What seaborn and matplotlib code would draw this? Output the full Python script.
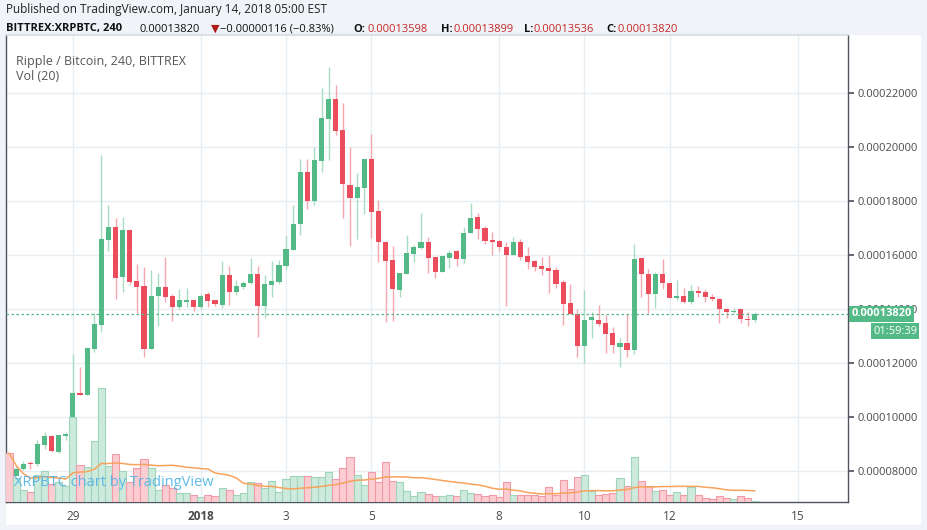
import matplotlib
matplotlib.use("Agg")
import matplotlib.pyplot as plt
import seaborn as sns
import numpy as np
import pandas as pd
from matplotlib.patches import Rectangle
from matplotlib.ticker import FuncFormatter

opens = [7900,7820,8070,8290,8270,8970,9280,8700,9290,9380,
10900,10820,12520,13400,16540,17020,15180,16910,15020,14840,
12520,14470,14810,14470,14070,14260,14320,14070,14540,14320,
14130,15250,14630,14810,14970,15310,14100,14890,15000,15590,
16170,17130,19060,18000,19480,21030,21770,20620,18580,18110,
18480,19540,17620,16480,15800,14700,15290,16040,16260,16470,
15910,15370,15890,16160,15860,16800,17420,17010,16570,16530,
16310,16010,16490,15970,15790,15600,15530,15460,15010,14230,
13810,12620,13600,13600,13490,13120,12580,12750,12470,15900,
15310,14540,15310,14970,14390,14490,14250,14680,14640,14460,
14380,14010,13880,14010,13640,13598]
closes = [7820,8090,8270,8260,8990,9280,8740,9320,9380,10900,
10820,12550,13450,16580,17020,15150,16910,15000,14810,12520,
14470,14810,14440,14070,14320,14320,14070,14470,14290,14170,
15250,14630,14840,14970,15310,14100,14910,15020,15620,16210,
17160,19060,18000,19510,21060,21770,20600,18620,18110,18510,
19540,17580,16480,15780,14740,15330,16060,16280,16470,15890,
15370,15960,16060,15860,16830,17380,16970,16530,16490,16280,
16010,16490,15940,15750,15570,15490,15420,14940,14200,13810,
12620,13600,13710,13450,13060,12650,12750,12470,15860,15310,
14540,15310,14950,14390,14490,14250,14680,14600,14430,14380,
14010,13880,13940,13620,13580,13820]
highs = [7950,8200,8370,8370,9140,9440,9320,9350,9440,12340,
11850,12590,13850,19690,17860,17360,17400,16970,15650,15550,
15460,15330,15920,14540,14730,14760,14320,14540,14630,14340,
15760,15580,15080,15040,15890,15580,15250,15760,15800,16690,
17840,19570,19570,20000,22185,22960,22300,21640,19990,19020,
19540,20490,18020,16520,16330,15330,16730,16370,17550,16670,
15920,15960,16170,16200,17020,17910,17540,17090,16860,16570,
16490,16680,16600,16310,15830,15940,16010,15570,15090,14940,
14000,14710,13900,14160,13790,13340,12910,13810,16420,15900,
15490,15380,15860,14970,15090,14790,14900,14860,14750,14570,
14420,14050,14050,14010,13900,13899]
lows = [7780,7800,8040,8090,8170,8820,8700,8660,9130,9380,
10800,10800,12400,13150,16130,14360,14630,14940,13850,12220,
12520,13380,14260,13550,14010,14070,13920,14010,14070,14100,
14050,14160,14530,14730,14940,12960,13660,14440,14940,15470,
16170,16730,17690,17840,19070,19510,20440,17370,16330,16580,
17530,16630,15740,13520,13550,14440,15290,15740,16230,15330,
15150,15370,15520,15600,15720,16800,16580,16420,16010,16160,
14120,16010,15830,15490,15420,15270,14600,14790,13420,13810,
12210,11990,12910,13380,12380,12380,11870,12240,12320,14430,
13840,14020,14730,14390,14340,14210,14170,14460,14250,14280,
13500,13650,13840,13470,13360,13536]
volumes = [147,73,36,30,80,93,55,60,48,255,
111,106,184,342,109,144,94,60,102,130,
102,36,50,43,27,27,21,15,21,18,
42,36,21,27,60,57,42,63,30,69,
78,78,78,75,75,90,70,102,135,81,
51,90,60,120,63,60,33,18,30,24,
18,18,21,18,36,27,24,18,21,15,
60,21,21,21,21,18,45,21,66,39,
75,81,33,21,24,27,72,48,135,63,
48,33,36,21,30,21,45,21,12,9,
18,12,9,18,12,3]
tick_pos = [9, 27, 39, 51, 69, 81, 93, 111]
tick_labels = ["29", "2018", "3", "5", "8", "10", "12", "15"]
last_price = 13820

SAT = 1e-8
df = pd.DataFrame({"o": np.array(opens)*SAT, "c": np.array(closes)*SAT,
                   "h": np.array(highs)*SAT, "l": np.array(lows)*SAT,
                   "v": volumes})
df["i"] = np.arange(len(df))
df["up"] = df.c >= df.o
df["ma"] = df.v.rolling(20, min_periods=1).mean()

sns.set_theme(style="white")
plt.rcParams["font.family"] = "Open Sans"
W, H = 927, 530
fig = plt.figure(figsize=(W/100, H/100), dpi=100, facecolor="#f0f3f7")
fig.patches.append(Rectangle((6/W, 5/H), 915/W, 490/H, transform=fig.transFigure,
                             facecolor="white", edgecolor="none", zorder=-10))
axv = fig.add_axes([6/W, 28/H, 842/W, 467/H])
ax = fig.add_axes([6/W, 28/H, 842/W, 467/H], sharex=axv)
axv.set_facecolor("none"); ax.set_facecolor("none")

GREEN, RED = "#53b987", "#eb4d5c"
GW, RW = "#a9dcc3", "#f5a6ae"

axv.set_ylim(6852*SAT, 24148*SAT)
axv.set_yticks(np.arange(8000, 24000, 2000)*SAT)
axv.grid(True, color="#e6edf3", linewidth=1)
axv.set_axisbelow(True)
for s in axv.spines.values(): s.set_visible(False)
axv2 = axv.twinx()
axv.tick_params(left=False, labelleft=False, right=False, labelright=False,
                bottom=False, labelbottom=False)
vcol = np.where(df.up, "#cdeadc", "#fbcdd2")
vedge = np.where(df.up, "#9fd6bb", "#ef9aa4")
axv2.bar(df.i, df.v, width=1.0, color=vcol, edgecolor=vedge, linewidth=0.8)
sns.lineplot(x=df.i, y=df.ma, ax=axv2, color="#f7a35c", linewidth=1.1)
axv2.set_ylim(0, 1401)
axv2.set_yticks([]); axv2.set_ylabel(""); axv2.set_xlabel("")
axv2.tick_params(left=False, right=False, labelleft=False, labelright=False)
for s in axv2.spines.values(): s.set_visible(False)

for _, r in df.iterrows():
    col = GREEN if r.up else RED
    wc = GW if r.up else RW
    ax.vlines(r.i, r.l, r.h, color=wc, linewidth=1, zorder=2)
    lo, hi = min(r.o, r.c), max(r.o, r.c)
    ax.bar(r.i, max(hi-lo, 6e-8), bottom=lo if hi-lo > 6e-8 else (lo+hi)/2-3e-8,
           width=0.72, color=col, linewidth=0, zorder=3)

ax.set_xlim(-0.42, 118.1)
ax.set_ylim(6852*SAT, 24148*SAT)
ax.set_yticks(np.arange(8000, 24000, 2000)*SAT)
ax.yaxis.tick_right()
ax.yaxis.set_major_formatter(FuncFormatter(lambda v, p: f"{v:.8f}"))
ax.tick_params(axis="y", length=4, color="#50535e", labelsize=8, labelcolor="#4a4a4a", pad=3)
ax.set_xticks(tick_pos)
ax.set_xticklabels(tick_labels)
for t in ax.get_xticklabels():
    if t.get_text() == "2018": t.set_fontweight("bold")
ax.tick_params(axis="x", length=4, color="#50535e", labelsize=8.5, labelcolor="#4a4a4a", pad=2)
ax.grid(False)
for k in ["left", "bottom", "right"]:
    ax.spines[k].set_color("#50535e"); ax.spines[k].set_linewidth(1)
ax.spines["top"].set_color("#d6dce3")
ax.set_xlabel(""); ax.set_ylabel("")

ax.axhline(last_price*SAT, color=GREEN, linestyle=(0, (2, 2)), linewidth=0.9, zorder=4)
ax.text(1.004, last_price*SAT, f"{last_price*SAT:.8f}", transform=ax.get_yaxis_transform(),
        ha="left", va="center", fontsize=8, color="white", fontweight="bold",
        bbox=dict(boxstyle="square,pad=0.2", fc=GREEN, ec="none"), clip_on=False, zorder=10)
ax.text(1.030, (last_price-640)*SAT, "01:59:39", transform=ax.get_yaxis_transform(),
        ha="left", va="center", fontsize=8, color="white",
        bbox=dict(boxstyle="square,pad=0.2", fc=GREEN, ec="none"), clip_on=False, zorder=10)

ax.text(10/842, 1-26/467, "Ripple / Bitcoin, 240, BITTREX", transform=ax.transAxes,
        fontsize=9, color="#555555", va="center")
ax.text(10/842, 1-42/467, "Vol (20)", transform=ax.transAxes,
        fontsize=9, color="#555555", va="center")
fig.text(14/W, 1-483/H, "XRPBTC chart by TradingView",
         fontsize=10.5, color="#4fb3e8", va="center", alpha=0.9, zorder=20)

fig.text(6/W, 1-10/H, "Published on TradingView.com, January 14, 2018 05:00 EST",
         fontsize=8.5, color="#222222", va="center")
y2 = 1-29/H
pieces = [(6, "BITTREX:XRPBTC, 240", "#111111", "bold"),
          (140, "0.00013820", "#111111", "normal"),
          (211, "▼", "#b01a1a", "normal"),
          (220, "−0.00000116 (−0.83%)", "#111111", "normal"),
          (353, "O:", "#111111", "bold"), (367, "0.00013598", "#c62828", "normal"),
          (441, "H:", "#111111", "bold"), (454, "0.00013899", "#c62828", "normal"),
          (524, "L:", "#111111", "bold"), (534, "0.00013536", "#c62828", "normal"),
          (606, "C:", "#111111", "bold"), (618, "0.00013820", "#c62828", "normal")]
for x, s, c, w in pieces:
    fig.text(x/W, y2, s, fontsize=8, color=c, fontweight=w, va="center",
             family="DejaVu Sans" if s == "▼" else "Open Sans")

fig.savefig("out.png", dpi=100, facecolor=fig.get_facecolor())
